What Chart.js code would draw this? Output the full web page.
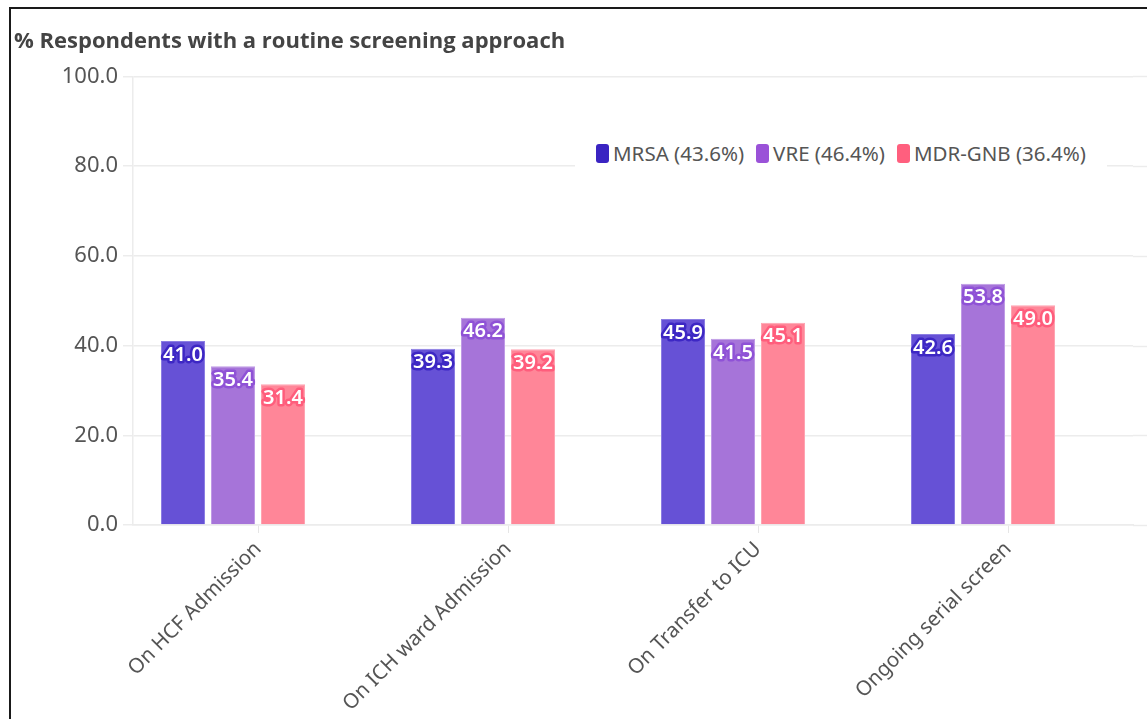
<!DOCTYPE html>
<html>
<head>
<meta charset="utf-8">
<script src="https://cdn.jsdelivr.net/npm/chart.js@4.4.1/dist/chart.umd.min.js"></script>
<style>
  html, body { margin: 0; padding: 0; background: #fff; width: 1147px; height: 719px; overflow: hidden; }
  #wrap { position: absolute; left: 0; top: 0; width: 1147px; height: 719px; }
  #frame { position: absolute; left: 9px; top: 7px; width: 1200px; height: 800px; border-top: 2px solid #1a1a1a; border-left: 2px solid #1a1a1a; pointer-events: none; }
  #legend { position: absolute; left: 575px; top: 134px; width: 532px; height: 38px; background: #fff; display: flex; align-items: center; justify-content: center; gap: 0; font-family: "Noto Sans", sans-serif; font-size: 20.5px; color: #555; white-space: nowrap; }
  .item { display: flex; align-items: center; margin: 0 6px; }
  .sw { width: 13px; height: 19px; border-radius: 3px; margin-right: 4px; }
</style>
</head>
<body>
<div id="wrap">
  <canvas id="c" width="1147" height="719"></canvas>
  <div id="legend"></div>
  <div id="frame"></div>
</div>
<script>
const categories = ['On HCF Admission', 'On ICH ward Admission', 'On Transfer to ICU', 'Ongoing serial screen'];
const seriesNames = ['MRSA (43.6%)', 'VRE (46.4%)', 'MDR-GNB (36.4%)'];
const mrsa = [41.0, 39.3, 45.9, 42.6];
const vre = [35.4, 46.2, 41.5, 53.8];
const mdr = [31.4, 39.2, 45.1, 49.0];
const yTicks = [0, 20, 40, 60, 80, 100];

const barColors = ['#6651d6', '#a674d9', '#ff8698'];
const barBorders = ['#8b7de3', '#bf9ae6', '#ffa3b1'];
const legendColors = ['#3a24c2', '#9a52d8', '#ff5f7e'];
const haloColors = ['#3d27c4', '#8f52d6', '#ff5d7c'];

// legend (HTML)
const lg = document.getElementById('legend');
seriesNames.forEach((n, i) => {
  const it = document.createElement('div'); it.className = 'item';
  const sw = document.createElement('div'); sw.className = 'sw'; sw.style.background = legendColors[i];
  const tx = document.createElement('span'); tx.textContent = n;
  it.appendChild(sw); it.appendChild(tx); lg.appendChild(it);
});

const valueLabels = {
  id: 'valueLabels',
  afterDatasetsDraw(chart) {
    const ctx = chart.ctx;
    ctx.save();
    ctx.font = '600 20px "Noto Sans", sans-serif';
    ctx.textAlign = 'center';
    ctx.textBaseline = 'middle';
    ctx.lineJoin = 'round';
    for (let d = 0; d < 3; d++) {
      const meta = chart.getDatasetMeta(d);
      meta.data.forEach((bar, i) => {
        const v = chart.data.datasets[d].data[i];
        const t = v.toFixed(1);
        const y = bar.y + 14;
        ctx.lineWidth = 5;
        ctx.strokeStyle = haloColors[d];
        ctx.strokeText(t, bar.x, y);
        ctx.fillStyle = '#ffffff';
        ctx.fillText(t, bar.x, y);
      });
    }
    ctx.restore();
  }
};

const gridExtend = {
  id: 'gridExtend',
  beforeDatasetsDraw(chart) {
    const ctx = chart.ctx, ys = chart.scales.y, a = chart.chartArea;
    ctx.save();
    ctx.strokeStyle = '#ececec';
    ctx.lineWidth = 1.5;
    yTicks.forEach(v => {
      const y = Math.round(ys.getPixelForValue(v)) + 0.5;
      ctx.beginPath(); ctx.moveTo(a.right, y); ctx.lineTo(chart.width, y); ctx.stroke();
    });
    ctx.restore();
  }
};

new Chart(document.getElementById('c'), {
  type: 'bar',
  data: {
    labels: categories,
    datasets: [
      { label: seriesNames[0], data: mrsa, backgroundColor: barColors[0], borderColor: barBorders[0], borderWidth: 1 },
      { label: seriesNames[1], data: vre, backgroundColor: barColors[1], borderColor: barBorders[1], borderWidth: 1 },
      { label: seriesNames[2], data: mdr, backgroundColor: barColors[2], borderColor: barBorders[2], borderWidth: 1 },
      { label: '', data: categories.map(() => null), backgroundColor: 'rgba(0,0,0,0)' }
    ]
  },
  options: {
    responsive: false,
    animation: false,
    devicePixelRatio: 1,
    layout: { padding: { left: 14, right: 14, top: 0, bottom: 0 } },
    datasets: { bar: { categoryPercentage: 0.8, barPercentage: 0.88 } },
    plugins: {
      legend: { display: false },
      tooltip: { enabled: false },
      title: {
        display: true,
        text: '% Respondents with a routine screening approach',
        align: 'start',
        color: '#444',
        font: { family: '"Open Sans", sans-serif', size: 22, weight: '700', lineHeight: 1.2 },
        padding: { top: 29, bottom: 21 }
      }
    },
    scales: {
      x: {
        offset: true,
        grid: { display: true, drawOnChartArea: false, offset: false, color: '#e6e6e6', tickLength: 8 },
        border: { display: true, color: '#ececec', width: 1.5 },
        ticks: {
          color: '#555',
          font: { family: '"Noto Sans", sans-serif', size: 20.5 },
          maxRotation: 45, minRotation: 45, padding: 4, autoSkip: false
        },
        afterFit(scale) { scale.height = 194; }
      },
      y: {
        min: 0, max: 100,
        afterBuildTicks(scale) { scale.ticks = yTicks.map(v => ({ value: v })); },
        grid: { color: '#ececec', lineWidth: 1.5, tickLength: 10 },
        border: { display: true, color: '#ececec', width: 1.5 },
        ticks: {
          color: '#555',
          font: { family: '"Noto Sans", sans-serif', size: 22 },
          padding: 5,
          callback: v => Number(v).toFixed(1)
        },
        afterFit(scale) { scale.width = 119; }
      }
    }
  },
  plugins: [gridExtend, valueLabels]
});
</script>
</body>
</html>
